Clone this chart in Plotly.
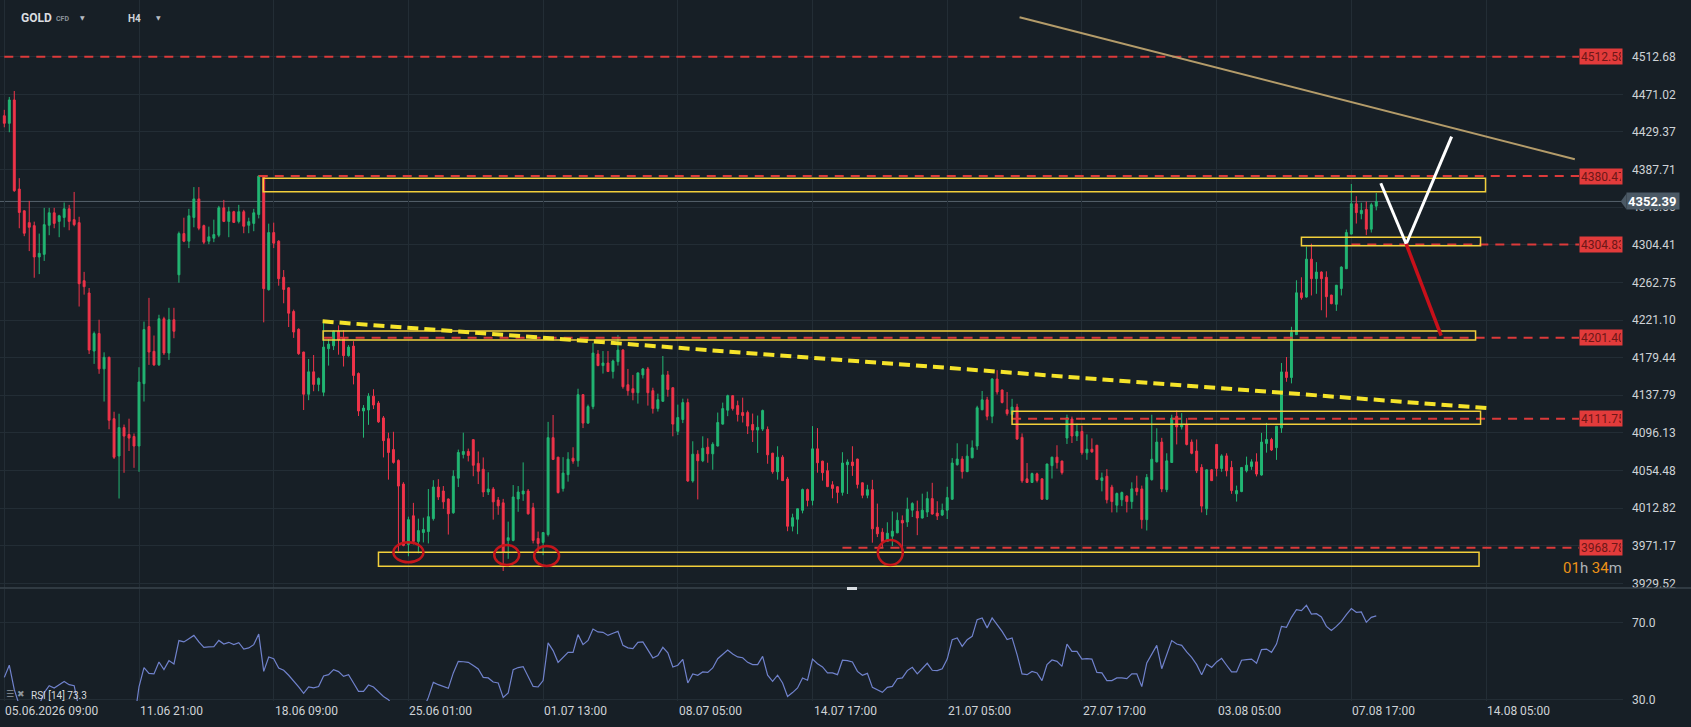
import plotly.graph_objects as go

# ---------------- data ----------------
opens = [4447.3, 4438.9, 4464.8, 4366.1, 4342.0, 4328.9, 4325.6, 4290.9, 4293.8, 4326.0,
         4339.8, 4330.3, 4334.7, 4344.2, 4332.2, 4328.9, 4264.6, 4251.0, 4186.7, 4206.1,
         4167.0, 4179.8, 4111.8, 4070.5, 4102.0, 4094.3, 4092.1, 4081.5, 4150.6, 4213.8,
         4186.4, 4171.4, 4222.5, 4184.5, 4221.4, 4271.2, 4316.8, 4308.4, 4334.7, 4355.2,
         4325.6, 4308.4, 4311.7, 4315.0, 4345.3, 4330.3, 4341.0, 4330.3, 4341.0, 4326.0,
         4328.1, 4338.0, 4380.4, 4254.7, 4317.9, 4308.4, 4268.4, 4256.7, 4230.5, 4210.8,
         4185.6, 4138.9, 4163.7, 4149.8, 4141.1, 4189.3, 4192.5, 4208.6, 4200.9, 4181.6,
         4192.2, 4161.9, 4120.3, 4121.4, 4136.7, 4129.1, 4112.7, 4089.7, 4077.6, 4065.6,
         4039.4, 3972.6, 4004.3, 3975.9, 3985.7, 3986.8, 4001.1, 4036.1, 4031.7, 4022.9,
         4007.6, 4045.9, 4072.2, 4075.5, 4088.6, 4062.3, 4055.8, 4030.6, 4033.9, 4021.8,
         4018.6, 3977.0, 3977.0, 4022.9, 4028.4, 4031.7, 4013.1, 3979.2, 3974.8, 3983.5,
         4090.8, 4069.2, 4034.4, 4049.8, 4068.1, 4065.2, 4138.4, 4106.9, 4125.2, 4183.4,
         4170.6, 4173.5, 4164.0, 4175.0, 4187.8, 4149.4, 4145.0, 4140.6, 4160.3, 4166.9,
         4142.8, 4123.0, 4131.1, 4160.3, 4146.1, 4097.8, 4110.9, 4129.6, 4042.9, 4072.5,
         4065.2, 4080.2, 4072.9, 4081.6, 4105.8, 4121.2, 4137.3, 4126.3, 4118.6, 4118.6,
         4105.4, 4099.2, 4100.3, 4099.9, 4073.6, 4053.1, 4069.2, 4045.0, 3992.7, 4000.4,
         4010.3, 4033.3, 4021.3, 4078.4, 4064.8, 4054.2, 4038.6, 4036.4, 4030.2, 4060.9,
         4063.8, 4067.1, 4040.8, 4027.0, 4033.2, 3991.6, 3986.1, 3975.9, 3981.7, 3985.4,
         3999.2, 3997.4, 4010.5, 4009.1, 4001.8, 4008.4, 4023.3, 4007.3, 4005.1, 4010.5,
         4022.6, 4060.9, 4067.1, 4053.2, 4068.5, 4081.6, 4121.7, 4132.7, 4114.5, 4155.7,
         4143.6, 4121.7, 4116.3, 4124.7, 4091.1, 4045.2, 4041.2, 4050.7, 4045.2, 4022.6,
         4059.8, 4069.2, 4064.9, 4090.4, 4111.5, 4092.6, 4097.7, 4074.0, 4078.0, 4082.4,
         4043.4, 4048.0, 4036.0, 4016.0, 4022.0, 4026.0, 4020.0, 4034.8, 4034.0, 4000.0,
         4044.3, 4064.0, 4085.9, 4033.3, 4063.3, 4114.4, 4102.7, 4105.2, 4085.9, 4076.0,
         4057.8, 4012.0, 4055.2, 4083.3, 4056.7, 4070.6, 4057.8, 4028.6, 4031.1, 4054.1,
         4058.9, 4064.0, 4049.4, 4084.4, 4088.8, 4079.7, 4101.6, 4163.6, 4157.4, 4204.9,
         4251.2, 4246.5, 4288.5, 4266.9, 4274.2, 4268.4, 4248.7, 4238.5, 4256.0, 4277.9,
         4316.2, 4349.8, 4338.8, 4343.6, 4321.7, 4347.2]
highs = [4453.8, 4468.1, 4474.7, 4378.2, 4342.5, 4353.0, 4330.0, 4316.8, 4345.3, 4345.3,
         4345.3, 4337.6, 4351.2, 4348.6, 4362.9, 4335.4, 4274.4, 4256.5, 4208.3, 4221.4,
         4185.3, 4180.5, 4119.5, 4117.3, 4105.3, 4111.8, 4095.4, 4168.8, 4219.3, 4245.6,
         4203.9, 4226.9, 4224.7, 4234.6, 4234.6, 4319.0, 4334.4, 4344.2, 4368.3, 4368.3,
         4326.7, 4324.5, 4332.2, 4347.5, 4354.1, 4346.4, 4342.0, 4348.6, 4343.1, 4334.4,
         4344.2, 4381.5, 4381.5, 4327.8, 4328.9, 4309.5, 4276.4, 4257.5, 4232.6, 4211.9,
         4186.0, 4177.9, 4182.3, 4157.5, 4221.0, 4199.8, 4209.7, 4215.1, 4209.7, 4193.3,
         4197.6, 4163.0, 4126.9, 4140.0, 4144.4, 4131.3, 4114.8, 4096.3, 4097.3, 4066.7,
         4041.5, 4003.3, 4018.6, 4001.1, 4002.2, 4033.9, 4043.7, 4044.8, 4037.2, 4023.5,
         4054.7, 4077.6, 4096.3, 4078.7, 4089.0, 4075.5, 4068.9, 4052.5, 4036.1, 4025.1,
         4023.0, 3997.8, 4038.3, 4037.2, 4063.4, 4033.9, 4018.6, 3986.8, 3986.0, 4108.3,
         4115.9, 4069.5, 4069.2, 4074.7, 4080.2, 4145.0, 4138.8, 4127.4, 4195.5, 4187.8,
         4186.7, 4186.7, 4177.2, 4204.3, 4188.9, 4166.9, 4160.3, 4163.0, 4168.0, 4169.1,
         4146.1, 4139.5, 4181.2, 4164.7, 4146.5, 4127.4, 4134.0, 4134.0, 4086.8, 4076.9,
         4092.3, 4090.1, 4085.7, 4118.6, 4129.6, 4138.4, 4137.8, 4131.8, 4135.1, 4120.8,
         4117.5, 4115.3, 4121.9, 4103.2, 4074.0, 4081.3, 4071.4, 4047.3, 4006.6, 4012.5,
         4034.4, 4034.4, 4103.6, 4101.4, 4065.2, 4063.0, 4042.6, 4036.8, 4074.7, 4066.7,
         4081.3, 4067.5, 4041.2, 4038.6, 4044.1, 4017.8, 3990.5, 3997.1, 4009.1, 4008.0,
         4004.7, 4024.4, 4019.3, 4021.1, 4028.8, 4031.0, 4040.8, 4020.4, 4017.8, 4036.4,
         4068.2, 4084.6, 4070.3, 4083.5, 4087.8, 4126.1, 4142.5, 4136.0, 4156.8, 4165.5,
         4144.0, 4141.4, 4133.8, 4128.3, 4095.5, 4062.7, 4052.1, 4052.1, 4045.6, 4062.0,
         4069.6, 4082.4, 4065.3, 4116.3, 4114.1, 4106.4, 4104.2, 4094.4, 4090.0, 4082.8,
         4052.1, 4056.0, 4038.6, 4030.0, 4031.1, 4027.0, 4041.3, 4048.7, 4037.7, 4050.5,
         4116.2, 4101.2, 4090.6, 4073.5, 4116.2, 4120.9, 4118.0, 4112.5, 4088.8, 4088.8,
         4061.4, 4055.6, 4055.9, 4083.6, 4072.4, 4073.5, 4065.1, 4037.7, 4058.0, 4069.8,
         4066.9, 4073.5, 4096.1, 4107.1, 4090.6, 4103.8, 4173.5, 4180.1, 4213.6, 4265.1,
         4268.4, 4302.3, 4305.6, 4285.2, 4275.0, 4275.0, 4249.0, 4259.9, 4280.5, 4321.3,
         4371.7, 4358.2, 4350.9, 4352.3, 4350.9, 4361.8]
lows = [4434.5, 4429.0, 4363.0, 4322.7, 4313.9, 4297.4, 4267.9, 4271.9, 4286.5, 4315.0,
        4322.7, 4312.8, 4323.8, 4320.5, 4324.9, 4236.0, 4249.2, 4183.4, 4172.5, 4161.5,
        4130.8, 4100.1, 4067.2, 4023.4, 4051.9, 4076.0, 4057.4, 4053.0, 4130.8, 4171.4,
        4170.3, 4170.3, 4182.3, 4176.9, 4200.9, 4262.4, 4307.3, 4300.7, 4323.8, 4320.5,
        4305.1, 4305.1, 4307.3, 4312.8, 4329.5, 4312.8, 4328.9, 4328.1, 4317.2, 4317.2,
        4319.4, 4333.6, 4218.5, 4253.6, 4300.7, 4259.1, 4239.6, 4213.3, 4201.3, 4182.5,
        4121.4, 4132.3, 4142.2, 4142.2, 4136.7, 4170.6, 4187.8, 4182.7, 4169.6, 4180.5,
        4149.8, 4114.8, 4090.8, 4105.0, 4122.5, 4107.2, 4068.9, 4044.3, 4062.0, 3964.9,
        3970.5, 3959.5, 3972.6, 3962.8, 3974.8, 3973.7, 3998.9, 4021.8, 4012.0, 3983.5,
        4006.5, 4036.1, 4067.8, 4064.5, 4048.1, 4039.4, 4025.1, 4027.3, 4000.0, 4005.4,
        3943.1, 3956.6, 3976.0, 4008.7, 4020.8, 4005.5, 3973.7, 3963.9, 3960.6, 3981.4,
        4066.0, 4028.9, 4031.1, 4042.1, 4061.9, 4058.6, 4101.4, 4106.0, 4122.3, 4170.0,
        4161.8, 4163.5, 4156.3, 4170.6, 4145.0, 4137.3, 4132.2, 4128.5, 4156.3, 4126.3,
        4117.5, 4119.7, 4130.5, 4136.2, 4092.3, 4093.7, 4106.9, 4041.8, 4041.0, 4022.4,
        4063.7, 4063.0, 4055.3, 4081.0, 4105.2, 4114.6, 4120.8, 4108.7, 4107.6, 4094.8,
        4086.0, 4073.9, 4098.1, 4061.9, 4050.9, 4044.3, 4042.8, 3987.2, 3987.0, 3983.9,
        4007.0, 4014.7, 4015.8, 4052.0, 4043.2, 4036.0, 4023.7, 4018.2, 4026.6, 4028.4,
        4048.5, 4034.6, 4023.7, 4023.7, 3974.5, 3980.7, 3969.7, 3975.2, 3970.8, 3985.0,
        3959.9, 3992.0, 4002.9, 3982.8, 4001.2, 4002.9, 4005.6, 3999.6, 4004.0, 4000.7,
        4022.0, 4059.8, 4045.5, 4052.6, 4068.0, 4077.3, 4121.2, 4110.1, 4106.8, 4138.5,
        4128.7, 4115.2, 4110.8, 4088.2, 4040.8, 4040.8, 4040.6, 4041.2, 4022.0, 4022.0,
        4045.5, 4056.5, 4049.9, 4083.8, 4084.9, 4087.1, 4071.8, 4066.3, 4074.0, 4043.7,
        4031.3, 4018.0, 4008.0, 4008.0, 4015.0, 4008.0, 4012.0, 4026.8, 3990.0, 3988.0,
        4043.2, 4063.3, 4030.4, 4030.4, 4063.0, 4083.3, 4099.8, 4082.2, 4072.4, 4051.6,
        4008.0, 4005.0, 4043.0, 4047.9, 4053.0, 4047.9, 4028.6, 4020.0, 4030.4, 4052.3,
        4055.2, 4047.9, 4048.7, 4074.2, 4076.0, 4066.2, 4096.1, 4152.7, 4150.9, 4204.5,
        4243.6, 4245.8, 4248.3, 4250.1, 4231.9, 4223.9, 4238.5, 4231.2, 4248.3, 4277.5,
        4315.8, 4327.9, 4332.6, 4315.1, 4318.0, 4342.5]
closes = [4438.9, 4464.8, 4364.3, 4340.2, 4317.2, 4323.8, 4290.9, 4294.9, 4326.7, 4339.8,
          4328.1, 4336.5, 4344.2, 4330.3, 4326.7, 4261.3, 4258.0, 4187.8, 4206.1, 4167.0,
          4179.8, 4110.0, 4069.1, 4102.0, 4092.5, 4090.3, 4081.5, 4152.4, 4210.5, 4185.6,
          4171.4, 4222.5, 4184.5, 4221.4, 4208.6, 4316.8, 4308.4, 4336.5, 4355.2, 4322.7,
          4307.3, 4313.2, 4315.7, 4345.3, 4330.3, 4341.0, 4329.2, 4341.0, 4324.9, 4330.0,
          4339.8, 4380.4, 4255.8, 4317.9, 4306.2, 4266.8, 4254.9, 4228.6, 4207.8, 4183.8,
          4138.9, 4163.7, 4149.8, 4156.4, 4191.1, 4194.4, 4208.6, 4199.1, 4181.6, 4191.1,
          4159.7, 4120.3, 4123.6, 4136.7, 4126.9, 4108.3, 4087.5, 4074.4, 4063.4, 4037.2,
          3971.5, 4000.0, 3975.9, 3987.9, 3989.0, 4003.3, 4036.1, 4025.1, 4019.7, 4006.5,
          4048.1, 4074.4, 4075.5, 4071.1, 4060.2, 4053.6, 4030.6, 4033.9, 4019.7, 4015.3,
          3963.9, 3980.0, 4025.1, 4030.6, 4031.7, 4006.5, 3977.0, 3973.7, 3985.7, 4090.8,
          4066.7, 4030.0, 4051.6, 4067.0, 4064.8, 4138.4, 4106.9, 4125.2, 4184.5, 4170.6,
          4173.5, 4164.0, 4175.7, 4187.8, 4147.2, 4142.8, 4140.6, 4162.5, 4166.9, 4140.6,
          4123.0, 4132.9, 4160.3, 4144.2, 4105.8, 4113.1, 4129.6, 4042.9, 4072.5, 4065.2,
          4079.1, 4072.9, 4083.5, 4107.6, 4123.0, 4137.3, 4123.0, 4116.4, 4115.3, 4103.6,
          4099.2, 4102.2, 4120.8, 4071.8, 4053.1, 4069.2, 4043.2, 3992.7, 4002.2, 4012.1,
          4033.3, 4021.3, 4078.4, 4063.0, 4052.0, 4036.6, 4034.6, 4030.2, 4062.7, 4063.8,
          4059.8, 4039.0, 4027.0, 4033.2, 3989.8, 3984.3, 3975.9, 3985.0, 3987.2, 3999.2,
          3996.3, 4011.6, 4017.8, 4001.8, 4010.5, 4023.3, 4006.2, 4004.0, 4010.5, 4024.4,
          4062.7, 4067.1, 4053.2, 4070.3, 4079.5, 4123.9, 4132.7, 4114.5, 4155.7, 4141.4,
          4129.8, 4117.4, 4124.7, 4089.3, 4043.0, 4041.2, 4051.0, 4043.4, 4022.6, 4061.6,
          4069.2, 4063.1, 4052.1, 4113.0, 4092.6, 4097.7, 4074.0, 4078.0, 4075.1, 4044.5,
          4046.3, 4022.0, 4020.0, 4029.0, 4030.0, 4020.0, 4034.1, 4031.1, 4000.0, 4046.8,
          4066.9, 4085.9, 4034.0, 4065.1, 4112.5, 4102.7, 4105.2, 4083.3, 4073.5, 4054.1,
          4015.0, 4055.2, 4043.2, 4056.7, 4070.6, 4054.1, 4032.2, 4032.2, 4057.8, 4060.3,
          4064.0, 4050.5, 4085.9, 4088.8, 4077.1, 4103.4, 4163.6, 4157.4, 4207.4, 4251.2,
          4245.8, 4288.5, 4266.9, 4274.2, 4266.9, 4246.9, 4239.2, 4259.6, 4279.7, 4318.0,
          4349.8, 4340.0, 4342.5, 4321.7, 4348.7, 4352.39]
rsi_values = [41.4, 47.7, 35.0, 27.0, 26.0, 27.0, 25.0, 27.0, 33.5, 37.1,
              35.9, 37.6, 39.3, 37.6, 37.1, 25.0, 24.0, 19.0, 21.0, 18.0,
              20.0, 16.0, 14.0, 20.0, 19.0, 19.0, 18.0, 36.5, 46.5, 43.5,
              43.2, 49.4, 45.4, 50.1, 48.3, 60.5, 59.8, 61.5, 63.2, 59.8,
              57.0, 57.2, 57.4, 60.6, 58.7, 59.6, 58.4, 59.4, 56.1, 56.7,
              58.4, 63.9, 44.5, 52.0, 51.1, 46.3, 45.1, 42.5, 39.7, 36.5,
              33.1, 36.4, 35.9, 36.6, 42.1, 42.8, 45.4, 44.4, 41.9, 42.8,
              38.5, 34.1, 34.1, 37.4, 36.4, 34.0, 31.5, 29.8, 27.0, 24.0,
              20.0, 24.0, 22.0, 24.0, 25.0, 31.0, 38.8, 37.6, 36.5, 35.7,
              43.7, 49.7, 49.5, 49.2, 47.5, 45.8, 41.4, 41.1, 39.0, 38.5,
              31.0, 33.3, 45.4, 46.5, 47.0, 42.0, 36.7, 36.4, 39.7, 59.3,
              55.3, 49.2, 52.0, 54.4, 54.4, 63.6, 58.4, 60.6, 66.5, 65.0,
              64.8, 63.2, 64.3, 65.3, 58.0, 56.7, 56.3, 59.6, 59.8, 55.3,
              51.5, 52.7, 57.0, 54.1, 46.8, 47.7, 50.8, 38.5, 43.2, 42.5,
              44.2, 44.0, 46.3, 51.1, 53.5, 55.6, 53.5, 52.0, 51.6, 49.2,
              48.0, 48.0, 52.3, 42.5, 39.3, 42.5, 38.5, 31.5, 33.5, 35.9,
              41.1, 39.9, 50.9, 48.5, 46.8, 43.7, 43.7, 42.8, 50.3, 50.1,
              49.4, 44.5, 42.5, 43.5, 36.2, 35.0, 33.6, 36.2, 36.7, 40.7,
              41.1, 44.9, 46.6, 43.2, 45.8, 48.7, 45.1, 44.9, 45.9, 50.9,
              61.0, 61.9, 57.5, 61.0, 62.7, 71.4, 72.3, 67.1, 72.3, 68.8,
              65.3, 61.0, 61.9, 53.2, 43.2, 42.8, 44.5, 43.7, 39.7, 48.0,
              50.4, 49.7, 47.1, 58.7, 54.9, 54.9, 50.9, 51.1, 50.9, 44.0,
              43.7, 39.7, 39.7, 41.1, 41.1, 40.7, 43.2, 43.2, 36.6, 48.9,
              53.5, 58.0, 45.9, 52.7, 60.5, 58.7, 58.0, 54.6, 51.8, 48.0,
              42.8, 48.3, 46.6, 49.4, 51.3, 47.7, 44.2, 44.2, 50.3, 50.6,
              50.9, 48.7, 55.8, 56.1, 54.4, 58.7, 67.9, 67.4, 72.6, 76.6,
              76.1, 78.8, 74.3, 74.5, 72.8, 67.9, 65.7, 67.9, 70.5, 74.0,
              77.1, 75.2, 75.4, 70.0, 72.6, 73.3]

x_tick_positions = [0, 27, 54, 81, 108, 135, 162, 189, 216, 243, 270, 297]
x_tick_labels = ["05.06.2026 09:00", "11.06 21:00", "18.06 09:00", "25.06 01:00",
                 "01.07 13:00", "08.07 05:00", "14.07 17:00", "21.07 05:00",
                 "27.07 17:00", "03.08 05:00", "07.08 17:00", "14.08 05:00"]
price_ticks = [3929.52, 3971.17, 4012.82, 4054.48, 4096.13, 4137.79, 4179.44, 4221.10,
               4262.75, 4304.41, 4346.06, 4387.71, 4429.37, 4471.02, 4512.68]
rsi_ticks = [30.0, 70.0]

level_prices = [4512.58, 4380.47, 4304.83, 4201.40, 4111.75, 3968.78]
level_start_bars = [0, 51, 270, 64, 202, 168]
last_price = 4352.39
rsi_last = 73.3

# drawing objects (bar index, price)
zone_x0 = [51.9, 260.0, 63.9, 202.0, 75.0]
zone_x1 = [296.9, 295.9, 294.9, 295.9, 295.6]
zone_lo = [4363.2, 4303.4, 4199.0, 4105.6, 3948.3]
zone_hi = [4378.0, 4312.7, 4208.9, 4120.0, 3963.8]
trend_yellow = [(63.8, 4219.6), (297.9, 4123.3)]
trend_tan = [(203.5, 4556.4), (314.8, 4399.1)]
path_white = [(275.9, 4372.5), (281.0, 4305.3), (290.1, 4424.1)]
path_red = [(281.0, 4305.3), (288.0, 4203.7)]
ellipse_x = [(78.0, 84.0), (98.2, 103.2), (106.2, 111.2), (175.1, 180.1)]
ellipse_y = [(3952.8, 3974.9), (3949.8, 3971.9), (3948.7, 3970.8), (3949.8, 3977.5)]

# ---------------- styling ----------------
W, H = 1691, 727
ML, MR, MT, MB = 0, 68, 0, 26
PW, PH = W - ML - MR, H - MT - MB
BG = "#171f26"
GRID = "#232d35"
GREEN = "#22b673"
RED = "#f0344a"
TXT = "#cfd3d7"
FONT = "Roboto"

MAIN_BOTTOM_PX, RSI_TOP_PX = 588, 589
main_dom = [1 - MAIN_BOTTOM_PX / PH, 1.0]
rsi_dom = [0.0, 1 - RSI_TOP_PX / PH]
y_range = [3924.31, 4575.47]
rsi_range = [29.12, 87.3]
BAR0_PX, BAR_PX = 4.3, 4.989
x_range = [-BAR0_PX / BAR_PX, (PW - BAR0_PX) / BAR_PX]


def px_x(px):
    return px / PW


def px_y(px):
    return 1 - px / PH


def price_to_paper(p):
    f = (p - y_range[0]) / (y_range[1] - y_range[0])
    return main_dom[0] + f * (main_dom[1] - main_dom[0])


n = len(closes)
idx = list(range(n))

fig = go.Figure()
fig.add_trace(go.Candlestick(
    x=idx, open=opens, high=highs, low=lows, close=closes,
    increasing=dict(line=dict(color=GREEN, width=1), fillcolor=GREEN),
    decreasing=dict(line=dict(color=RED, width=1), fillcolor=RED),
    whiskerwidth=0, xaxis="x", yaxis="y", showlegend=False, hoverinfo="skip"))
fig.add_trace(go.Scatter(
    x=idx, y=rsi_values, mode="lines", line=dict(color="#7082cc", width=1.2),
    xaxis="x2", yaxis="y2", showlegend=False, hoverinfo="skip"))

shapes = []
# separator between panes
shapes.append(dict(type="line", xref="paper", yref="paper", x0=0, x1=W / PW,
                   y0=main_dom[0], y1=main_dom[0], line=dict(color="#3a444d", width=1.5)))
shapes.append(dict(type="rect", xref="paper", yref="paper", x0=px_x(847), x1=px_x(857),
                   y0=px_y(590), y1=px_y(587), fillcolor="#d8dde2", line=dict(width=0)))
# current price line
shapes.append(dict(type="line", xref="paper", yref="y", x0=0, x1=px_x(1621),
                   y0=last_price, y1=last_price, line=dict(color="#56626c", width=1), layer="below"))
# red dashed levels
label_left_bar = (1579 - BAR0_PX) / BAR_PX
for p, s in zip(level_prices, level_start_bars):
    shapes.append(dict(type="line", xref="x", yref="y", x0=s, x1=label_left_bar, y0=p, y1=p,
                       line=dict(color="#dc3a3a", width=2, dash="9px,7px")))
# yellow zones
for x0, x1, lo, hi in zip(zone_x0, zone_x1, zone_lo, zone_hi):
    shapes.append(dict(type="rect", xref="x", yref="y", x0=x0, x1=x1, y0=lo, y1=hi,
                       line=dict(color="#f2cf3b", width=1.5), fillcolor="rgba(0,0,0,0)"))
# trend lines
shapes.append(dict(type="line", xref="x", yref="y", x0=trend_yellow[0][0], y0=trend_yellow[0][1],
                   x1=trend_yellow[1][0], y1=trend_yellow[1][1],
                   line=dict(color="#f5e32a", width=4, dash="11px,6px")))
shapes.append(dict(type="line", xref="x", yref="y", x0=trend_tan[0][0], y0=trend_tan[0][1],
                   x1=trend_tan[1][0], y1=trend_tan[1][1], line=dict(color="#b49c6a", width=2)))
for (a, b) in zip(path_white[:-1], path_white[1:]):
    shapes.append(dict(type="line", xref="x", yref="y", x0=a[0], y0=a[1], x1=b[0], y1=b[1],
                       line=dict(color="#ffffff", width=3)))
shapes.append(dict(type="line", xref="x", yref="y", x0=path_red[0][0], y0=path_red[0][1],
                   x1=path_red[1][0], y1=path_red[1][1], line=dict(color="#c8101a", width=3.5)))
for (ex0, ex1), (ey0, ey1) in zip(ellipse_x, ellipse_y):
    shapes.append(dict(type="circle", xref="x", yref="y", x0=ex0, x1=ex1, y0=ey0, y1=ey1,
                       line=dict(color="#c4161c", width=2.5)))
# current price tag arrow
yp = price_to_paper(last_price)
dy = 8 / PH
shapes.append(dict(type="path", xref="paper", yref="paper",
                   path=f"M {px_x(1620.7)} {yp} L {px_x(1626.5)} {yp + dy} L {px_x(1626.5)} {yp - dy} Z",
                   fillcolor="#4b5965", line=dict(width=0)))

annotations = []
# red level tags
for p in level_prices:
    annotations.append(dict(xref="paper", yref="y", x=px_x(1579), y=p, xanchor="left", yanchor="middle",
                            text=f"{p:.2f}", showarrow=False, bgcolor="#e23b3b", width=40, height=13,
                            align="left", borderpad=1,
                            font=dict(family=FONT, size=12, color="#6e1717")))
# current price tag
annotations.append(dict(xref="paper", yref="y", x=px_x(1626), y=last_price, xanchor="left",
                        yanchor="middle", text=f"<b>{last_price:.2f}</b>", showarrow=False,
                        bgcolor="#4b5965", width=50, height=14, align="left", borderpad=1,
                        font=dict(family=FONT, size=13, color="#ffffff")))
# x tick labels (left aligned at gridlines)
for xv, lab in zip(x_tick_positions, x_tick_labels):
    annotations.append(dict(xref="x2", yref="paper", x=xv, y=px_y(711), xanchor="left",
                            yanchor="middle", text=lab, showarrow=False, xshift=-1,
                            font=dict(family=FONT, size=12, color=TXT)))
# header
annotations += [
    dict(xref="paper", yref="paper", x=px_x(19), y=px_y(18), xanchor="left", yanchor="middle",
         text="<b>GOLD</b>", showarrow=False, font=dict(family=FONT, size=12, color="#dadde0")),
    dict(xref="paper", yref="paper", x=px_x(54), y=px_y(18.5), xanchor="left", yanchor="middle",
         text="<b>CFD</b>", showarrow=False, font=dict(family=FONT, size=7, color="#8b939a")),
    dict(xref="paper", yref="paper", x=px_x(82), y=px_y(17), xanchor="center", yanchor="middle",
         text="▼", showarrow=False, font=dict(family="DejaVu Sans", size=6, color="#b8bdc2")),
    dict(xref="paper", yref="paper", x=px_x(126), y=px_y(19), xanchor="left", yanchor="middle",
         text="<b>H4</b>", showarrow=False, font=dict(family=FONT, size=10, color="#d0d4d8")),
    dict(xref="paper", yref="paper", x=px_x(158), y=px_y(17), xanchor="center", yanchor="middle",
         text="▼", showarrow=False, font=dict(family="DejaVu Sans", size=6, color="#b8bdc2")),
]
# countdown
annotations.append(dict(xref="paper", yref="paper", x=px_x(1624), y=px_y(568), xanchor="right",
                        yanchor="middle", showarrow=False,
                        text="<span style='color:#ec9217'>01</span><span style='color:#aeb3b8'>h </span>"
                             "<span style='color:#ec9217'>34</span><span style='color:#aeb3b8'>m</span>",
                        font=dict(family=FONT, size=15)))
# RSI label
annotations.append(dict(xref="paper", yref="paper", x=px_x(4), y=px_y(694), xanchor="left",
                        yanchor="middle", showarrow=False, text="☰ ✖",
                        font=dict(family="DejaVu Sans", size=9, color="#8d959c")))
annotations.append(dict(xref="paper", yref="paper", x=px_x(29), y=px_y(695), xanchor="left",
                        yanchor="middle", showarrow=False, text=f"RSI [14] {rsi_last:.1f}",
                        font=dict(family=FONT, size=10, color="#d6dade")))

axis_common = dict(showline=False, zeroline=False, showgrid=True, gridcolor=GRID, gridwidth=1)

fig.update_layout(
    width=W, height=H, margin=dict(l=ML, r=MR, t=MT, b=MB),
    paper_bgcolor=BG, plot_bgcolor=BG, boxgap=0.45,
    font=dict(family=FONT, color=TXT),
    xaxis=dict(domain=[0, 1], anchor="y", range=x_range, tickvals=x_tick_positions,
               showticklabels=False, ticks="", rangeslider=dict(visible=False), **axis_common),
    xaxis2=dict(domain=[0, 1], anchor="y2", range=x_range, matches="x", tickvals=x_tick_positions,
                showticklabels=False, ticks="", **axis_common),
    yaxis=dict(domain=main_dom, anchor="x", side="right", range=y_range, tickvals=price_ticks,
               ticktext=[f"{v:.2f}" for v in price_ticks], ticks="", ticklabelstandoff=8,
               tickfont=dict(family=FONT, size=12, color=TXT), **axis_common),
    yaxis2=dict(domain=rsi_dom, anchor="x2", side="right", range=rsi_range, tickvals=rsi_ticks,
                ticktext=[f"{v:.1f}" for v in rsi_ticks], ticks="", ticklabelstandoff=8,
                tickfont=dict(family=FONT, size=12, color=TXT), **axis_common),
    shapes=shapes, annotations=annotations, showlegend=False,
)

fig.write_html("out.html",
               config={"displayModeBar": False, "staticPlot": True},
               post_script="document.body.style.margin='0';document.body.style.padding='0';"
                           "document.body.style.background='#171f26';"
                           "document.body.style.overflow='hidden';")
